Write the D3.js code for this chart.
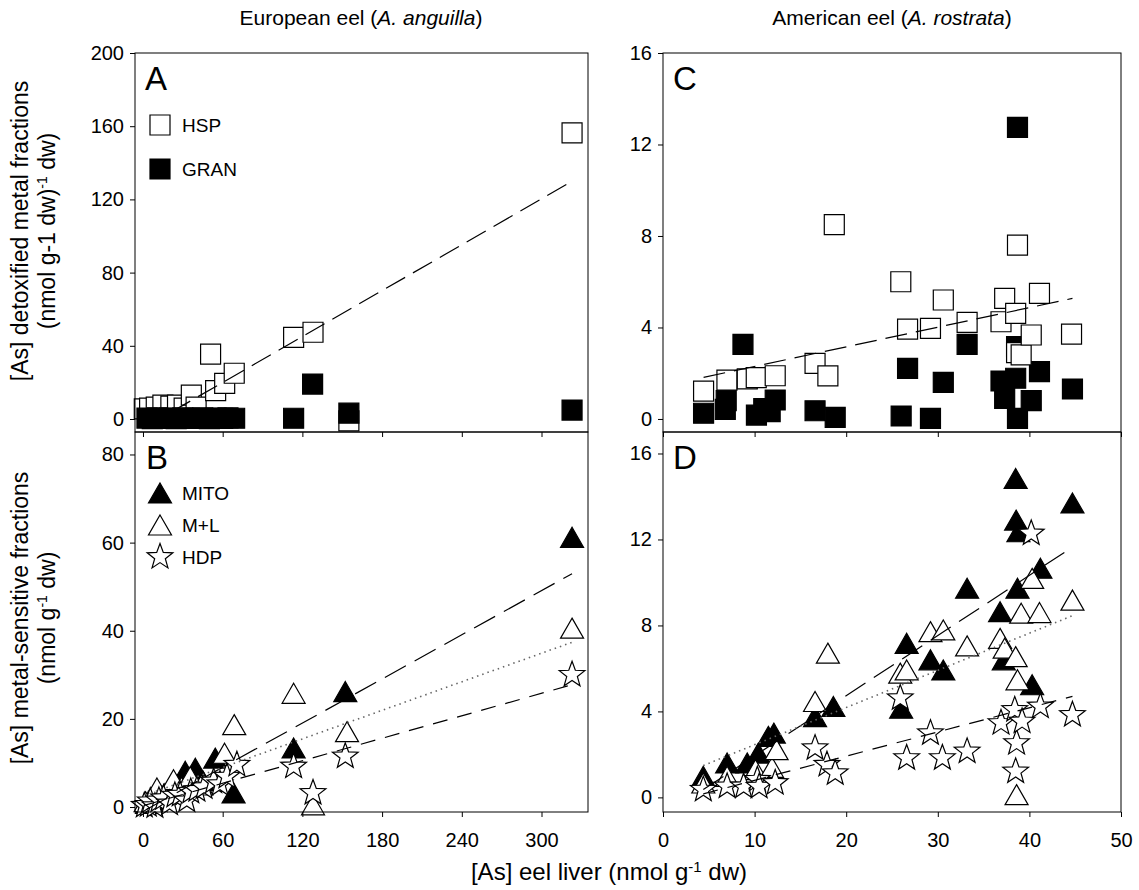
<!DOCTYPE html>
<html><head><meta charset="utf-8">
<script src="https://cdn.jsdelivr.net/npm/d3@7"></script>
<style>
body{margin:0;background:#fff;}
svg text{font-family:"Liberation Sans", Arial, sans-serif;fill:#000;}
</style></head><body>
<svg id="fig" width="1139" height="890"></svg>
<script>
// ---------- European eel (A. anguilla) ----------
// Panel A: detoxified fractions
const hspEuX = [1, 5, 10, 15, 21, 26, 31, 36.4, 40, 50.9, 54.7, 61.5, 68.7, 113.4, 128, 155, 323];
const hspEuY = [5.5, 6.0, 6.5, 7.6, 7.0, 7.6, 6.0, 13.1, 6.5, 35.4, 15.5, 19.5, 25, 44.6, 47.4, -1, 156.4];
const granEuX = [3, 7, 11, 15, 20, 25, 30, 35, 40, 45, 50, 55, 60, 64, 69, 113.4, 127.7, 155, 323];
const granEuY = [0.5, 0.2, 0.6, 0.3, 0.5, 0.2, 0.6, 0.4, 0.3, 0.6, 0.2, 0.5, 0.3, 0.6, 0.4, 0.4, 19.1, 3.2, 4.9];
// Panel B: metal-sensitive fractions
const mitoEuX = [3, 8, 14, 20, 26, 31.8, 39.4, 45, 54.4, 68.2, 113.4, 152.3, 323];
const mitoEuY = [0.8, 1.5, 2.5, 3.5, 5, 8.1, 8.8, 6, 11.1, 3.2, 13.4, 26.2, 61.2];
const mlEuX = [2, 6, 10.5, 16, 23, 29, 35.6, 44, 61.4, 68.7, 113.4, 128, 153.6, 323];
const mlEuY = [1.2, 2, 4.3, 3, 6.2, 4.5, 6.9, 5, 12.2, 18.7, 25.8, 0.5, 17.1, 40.6];
const hdpEuX = [1, 4, 5.5, 9, 12, 15.5, 20, 24, 28, 33, 36, 40.6, 46, 53.2, 58, 63.2, 70.7, 113.4, 128, 152.3, 323];
const hdpEuY = [0.3, 0.5, 1.3, 0.2, 1.5, 2, 0.8, 2.6, 2.8, 1.5, 3.5, 3.9, 4.5, 5.8, 5.2, 6.9, 9.6, 9.2, 3.2, 11.5, 30];

// ---------- American eel (A. rostrata) ----------
// Panel C
const hspAmX = [4.43, 6.98, 9.2, 10.18, 12.25, 16.6, 18.0, 18.7, 25.96, 26.7, 29.2, 30.6, 33.2, 36.9, 37.3, 38.5, 38.6, 38.7, 39.1, 40.2, 41.1, 44.6];
const hspAmY = [1.22, 1.70, 1.75, 1.81, 1.89, 2.43, 1.88, 8.5, 6.0, 3.93, 3.96, 5.2, 4.22, 4.25, 5.27, 4.62, 2.9, 7.6, 2.80, 3.67, 5.49, 3.71];
const granAmX = [4.43, 6.8, 6.9, 8.73, 10.2, 11.0, 11.7, 12.25, 16.6, 18.8, 26.0, 26.7, 29.2, 30.6, 33.2, 36.9, 37.3, 38.5, 38.6, 38.7, 38.7, 40.2, 41.1, 44.7];
const granAmY = [0.25, 0.42, 0.8, 3.26, 0.17, 0.45, 0.32, 0.83, 0.36, 0.07, 0.13, 2.21, 0.03, 1.6, 3.26, 1.66, 0.9, 1.78, 3.16, 0.03, 12.75, 0.8, 2.07, 1.31];
// Panel D
const mitoAmX = [4.4, 7.0, 9.2, 10.4, 11.5, 12.1, 16.6, 18.6, 26.0, 26.6, 29.2, 30.6, 33.2, 36.8, 37.2, 38.5, 38.55, 38.7, 38.8, 40.3, 41.2, 44.7];
const mitoAmY = [0.98, 1.6, 1.6, 2.06, 2.84, 2.99, 3.76, 4.23, 4.15, 7.17, 6.40, 5.93, 9.73, 8.64, 6.40, 14.84, 12.9, 9.73, 12.36, 5.24, 10.66, 13.7];
const mlAmX = [4.4, 7.0, 10.1, 11.9, 12.4, 16.6, 18.0, 25.9, 26.6, 29.2, 30.6, 33.2, 36.8, 37.3, 38.5, 38.6, 38.7, 39.1, 40.3, 41.1, 44.7];
const mlAmY = [0.67, 0.98, 1.29, 1.4, 2.22, 4.46, 6.71, 5.78, 5.93, 7.71, 7.79, 7.05, 7.40, 6.94, 6.55, 0.13, 5.47, 8.57, 10.19, 8.60, 9.18];
const hdpAmX = [4.4, 7.0, 8.8, 10.3, 10.5, 12.25, 16.6, 17.9, 18.8, 25.9, 26.6, 29.2, 30.5, 33.2, 36.9, 38.4, 38.5, 38.6, 39.2, 40.2, 41.2, 44.7];
const hdpAmY = [0.36, 0.51, 0.51, 0.82, 0.5, 0.67, 2.29, 1.52, 1.13, 4.62, 1.83, 2.99, 1.83, 2.14, 3.46, 4.07, 1.21, 2.53, 3.53, 12.28, 4.23, 3.84];

// Linear fits: [intercept, slope, xmin, xmax]
const fitHspEu = [-5.1, 0.418, 1, 323];
const fitMitoEu = [-1.0, 0.167, 3, 323];
const fitMlEu = [2.5, 0.108, 2, 323];
const fitHdpEu = [0.3, 0.085, 1, 323];
const fitHspAm = [1.44, 0.0857, 4.43, 44.7];
const fitMitoAm = [-0.87, 0.280, 4.4, 44.7];
const fitMlAm = [0.72, 0.173, 4.4, 44.7];
const fitHdpAm = [-0.33, 0.1125, 4.4, 44.7];

// Tick values
const xTicksEu = [0, 60, 120, 180, 240, 300];
const xTicksAm = [0, 10, 20, 30, 40, 50];
const yTicksA = [0, 40, 80, 120, 160, 200];
const yTicksB = [0, 20, 40, 60, 80];
const yTicksCD = [0, 4, 8, 12, 16];

const svg = d3.select("#fig");

// Scales (panel frames: left column 135-588, right column 663-1121; rows 53-432, 432-812)
const xEu = d3.scaleLinear().domain([-6, 335]).range([135, 588]);
const xAm = d3.scaleLinear().domain([0, 50]).range([663, 1121]);
const yA = d3.scaleLinear().domain([-7.1, 200]).range([432, 53]);
const yC = d3.scaleLinear().domain([-0.57, 16]).range([432, 53]);
const yB = d3.scaleLinear().domain([-1.13, 85.1]).range([812, 432]);
const yD = d3.scaleLinear().domain([-0.68, 17]).range([812, 432]);

// Marker shapes
const shapePath = {
  square: () => { const s = 20; return `M${-s/2},${-s/2}h${s}v${s}h${-s}Z`; },
  triangle: () => { const w = 23, h = 20; return `M0,${-h/2}L${w/2},${h/2}L${-w/2},${h/2}Z`; },
  star: () => {
    const R = 13.5, r = 5.6, p = [];
    for (let i = 0; i < 10; i++) {
      const a = -Math.PI / 2 + i * Math.PI / 5, rr = i % 2 ? r : R;
      p.push([rr * Math.cos(a), rr * Math.sin(a)]);
    }
    return "M" + p.map(d => d[0].toFixed(2) + "," + d[1].toFixed(2)).join("L") + "Z";
  }
};

function markers(g, xs, ys, x, y, shape, fill) {
  g.append("g").selectAll("path").data(d3.zip(xs, ys)).join("path")
    .attr("d", shapePath[shape]())
    .attr("transform", d => `translate(${x(d[0])},${y(d[1])})`)
    .attr("fill", fill).attr("stroke", "#000").attr("stroke-width", 1.2)
    .attr("stroke-linejoin", "miter");
}

function fitLine(g, fit, x, y, dash, color, width) {
  const [a, b, x0, x1] = fit;
  const line = d3.line().x(d => x(d)).y(d => y(a + b * d));
  g.append("path").attr("d", line([x0, x1]))
    .attr("fill", "none").attr("stroke", color || "#000")
    .attr("stroke-width", width || 1.2).attr("stroke-dasharray", dash);
}

function frame(x, y, xTicks, yTicks, labelsX) {
  const g = svg.append("g");
  const [x0, x1] = x.range(), [y0, y1] = y.range();
  const ax = g.append("g").attr("transform", `translate(${x0},0)`)
    .call(d3.axisLeft(y).tickValues(yTicks).tickSize(5).tickPadding(6));
  ax.select(".domain").remove();
  const bx = g.append("g").attr("transform", `translate(0,${y0})`)
    .call(d3.axisBottom(x).tickValues(xTicks).tickSize(5).tickPadding(16)
      .tickFormat(labelsX ? d3.format("d") : () => ""));
  bx.select(".domain").remove();
  g.selectAll(".tick line").attr("stroke", "#000");
  g.selectAll(".tick text").attr("font-size", 20).attr("font-family", "Liberation Sans, Arial, sans-serif");
  g.append("rect").attr("x", x0).attr("y", y1).attr("width", x1 - x0).attr("height", y0 - y1)
    .attr("fill", "none").attr("stroke", "#000").attr("stroke-width", 1);
}

function letter(txt, px, py) {
  svg.append("text").attr("x", px).attr("y", py).attr("font-size", 33).text(txt);
}

// ---- Panel A ----
const gA = svg.append("g");
markers(gA, hspEuX, hspEuY, xEu, yA, "square", "#fff");
markers(gA, granEuX, granEuY, xEu, yA, "square", "#000");
fitLine(gA, fitHspEu, xEu, yA, "22,9");

// ---- Panel B ----
const gB = svg.append("g");
markers(gB, mitoEuX, mitoEuY, xEu, yB, "triangle", "#000");
markers(gB, mlEuX, mlEuY, xEu, yB, "triangle", "#fff");
markers(gB, hdpEuX, hdpEuY, xEu, yB, "star", "#fff");
fitLine(gB, fitMitoEu, xEu, yB, "24,10");
fitLine(gB, fitMlEu, xEu, yB, "1.5,4", "#666", 1.6);
fitLine(gB, fitHdpEu, xEu, yB, "15,10");

// ---- Panel C ----
const gC = svg.append("g");
markers(gC, granAmX, granAmY, xAm, yC, "square", "#000");
markers(gC, hspAmX, hspAmY, xAm, yC, "square", "#fff");
fitLine(gC, fitHspAm, xAm, yC, "22,9");

// ---- Panel D ----
const gD = svg.append("g");
markers(gD, mitoAmX, mitoAmY, xAm, yD, "triangle", "#000");
markers(gD, mlAmX, mlAmY, xAm, yD, "triangle", "#fff");
markers(gD, hdpAmX, hdpAmY, xAm, yD, "star", "#fff");
fitLine(gD, fitMitoAm, xAm, yD, "24,10");
fitLine(gD, fitMlAm, xAm, yD, "1.5,4", "#666", 1.6);
fitLine(gD, fitHdpAm, xAm, yD, "15,10");

// Frames and axes
frame(xEu, yA, xTicksEu, yTicksA, false);
frame(xEu, yB, xTicksEu, yTicksB, true);
frame(xAm, yC, xTicksAm, yTicksCD, false);
frame(xAm, yD, xTicksAm, yTicksCD, true);

// Panel letters
letter("A", 145, 90);
letter("B", 146, 469);
letter("C", 673, 90);
letter("D", 673, 469);

// Legends
function legendItem(shape, fill, cx, cy, label) {
  svg.append("path").attr("d", shapePath[shape]()).attr("transform", `translate(${cx},${cy})`)
    .attr("fill", fill).attr("stroke", "#000").attr("stroke-width", 1.2);
  svg.append("text").attr("x", cx + 22).attr("y", cy + 7).attr("font-size", 19).text(label);
}
legendItem("square", "#fff", 160, 125, "HSP");
legendItem("square", "#000", 160, 169, "GRAN");
legendItem("triangle", "#000", 160, 493, "MITO");
legendItem("triangle", "#fff", 160, 525, "M+L");
legendItem("star", "#fff", 160, 557, "HDP");

// Column titles
function colTitle(cx, pre, it) {
  const t = svg.append("text").attr("x", cx).attr("y", 25).attr("text-anchor", "middle").attr("font-size", 21);
  t.append("tspan").text(pre);
  t.append("tspan").attr("font-style", "italic").text(it);
  t.append("tspan").text(")");
}
colTitle(361, "European eel (", "A. anguilla");
colTitle(892, "American eel (", "A. rostrata");

// Y-axis titles
function yTitle(cx, cy, parts) {
  const t = svg.append("text").attr("transform", `translate(${cx},${cy}) rotate(-90)`)
    .attr("text-anchor", "middle").attr("font-size", 23);
  parts.forEach(p => {
    const s = t.append("tspan").text(p[0]);
    if (p[1]) s.attr("font-size", 14).attr("baseline-shift", "super");
  });
}
yTitle(28, 231, [["[As] detoxified metal fractions"]]);
yTitle(55, 231, [["(nmol g-1 dw)"], ["-1", true], [" dw)"]]);
yTitle(28, 618, [["[As] metal-sensitive fractions"]]);
yTitle(55, 618, [["(nmol g"], ["-1", true], [" dw)"]]);

// X-axis title
const xt = svg.append("text").attr("x", 609).attr("y", 880).attr("text-anchor", "middle").attr("font-size", 24);
xt.append("tspan").text("[As] eel liver (nmol g");
xt.append("tspan").attr("font-size", 15).attr("baseline-shift", "super").text("-1");
xt.append("tspan").text(" dw)");
</script>
</body></html>
